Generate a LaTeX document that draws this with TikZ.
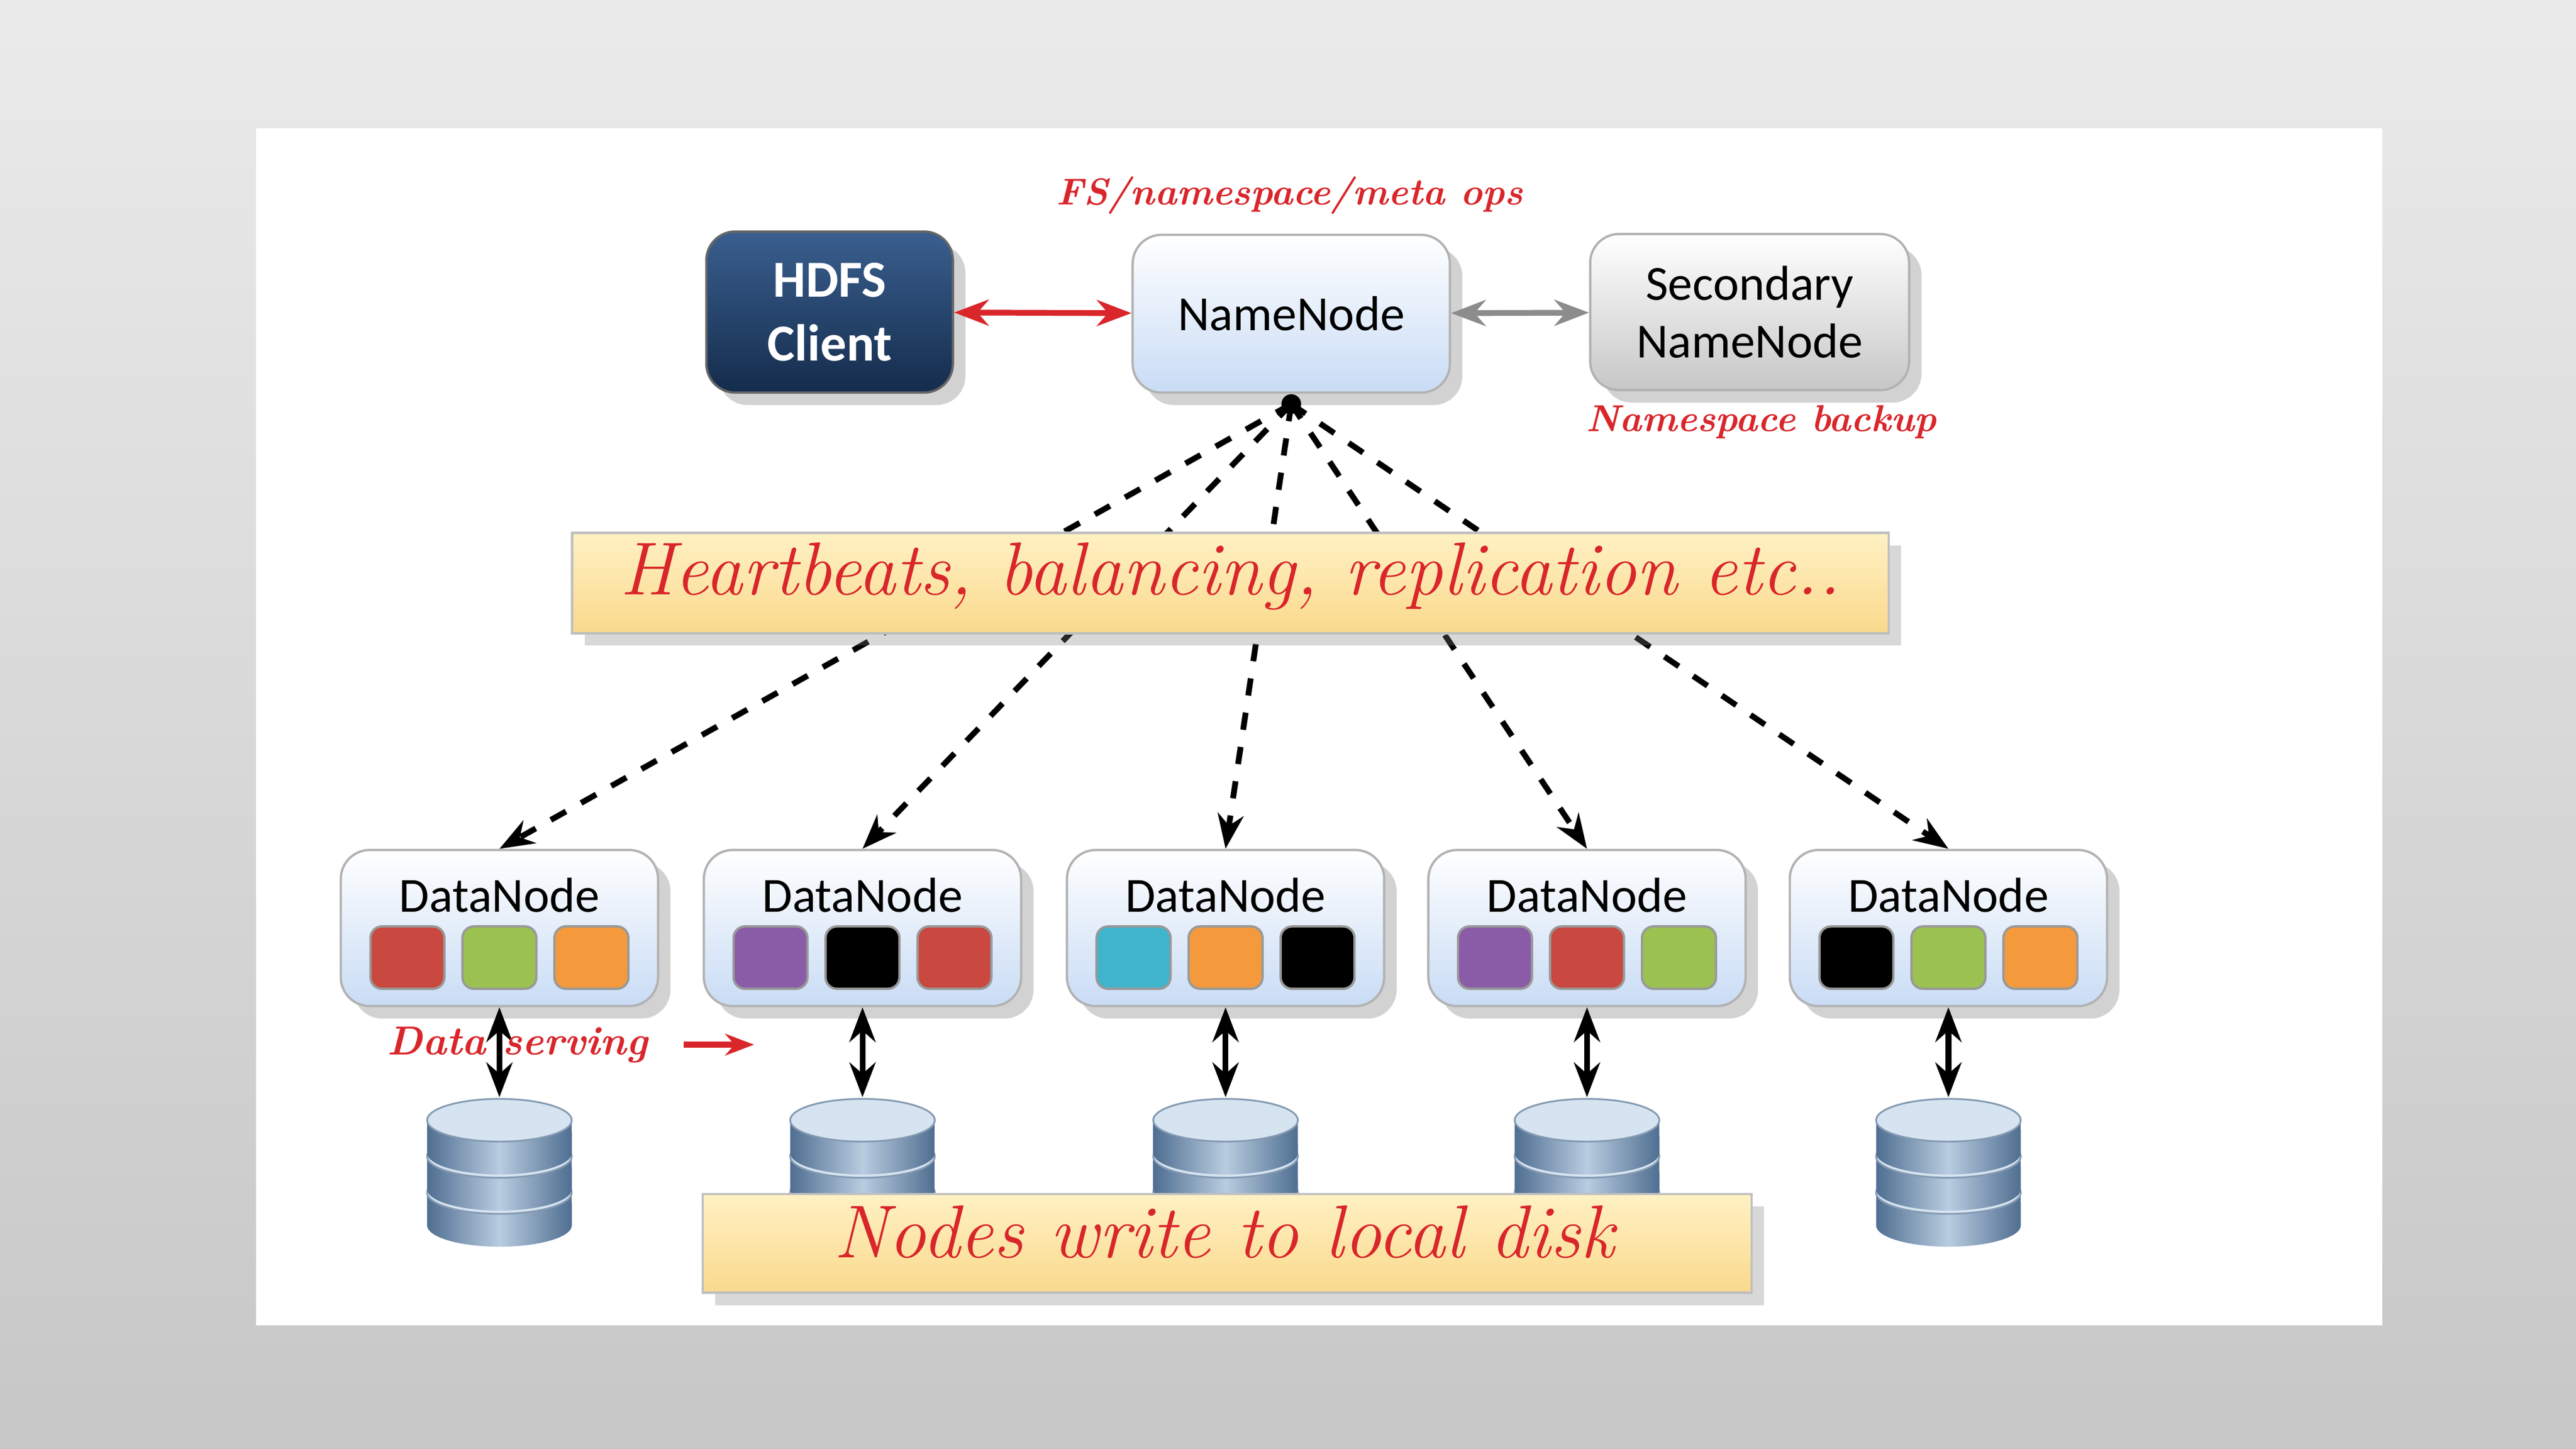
\documentclass[tikz,border=0pt]{standalone}
\usepackage{fontspec}
\setmainfont{Latin Modern Roman}
\newfontfamily\boxfont{Carlito}
\usetikzlibrary{shadows,arrows.meta}
\definecolor{lblred}{HTML}{D9262B}
\definecolor{sqred}{HTML}{C9483F}
\definecolor{sqgreen}{HTML}{9BC250}
\definecolor{sqorange}{HTML}{F59A3C}
\definecolor{sqpurple}{HTML}{8A5CA8}
\definecolor{sqcyan}{HTML}{3FB4CB}
\definecolor{nodeblue}{HTML}{C9DCF5}
\definecolor{navytop}{HTML}{3A5F8F}
\definecolor{navybot}{HTML}{142C4C}
\definecolor{diskdark}{HTML}{4F6E91}
\definecolor{disklight}{HTML}{B9CCE0}
\definecolor{disktop}{HTML}{D6E3F0}
\definecolor{bantop}{HTML}{FFF1C4}
\definecolor{banbot}{HTML}{FAD98C}
\tikzset{
  lbl/.style={text=lblred,font=\itshape\bfseries\fontsize{6.5}{8}\selectfont},
  big/.style={text=lblred,font=\itshape\fontsize{13}{15}\selectfont},
  nn/.style={draw=black!30,rounded corners=5pt,top color=white,bottom color=nodeblue,drop shadow={opacity=0.35},font=\boxfont\fontsize{8.5}{10}\selectfont,minimum width=1.93cm,minimum height=0.96cm,align=center},
  dn/.style={draw=black!30,rounded corners=5pt,top color=white,bottom color=nodeblue,drop shadow={opacity=0.35},minimum width=1.93cm,minimum height=0.95cm},
  sq/.style={rounded corners=2pt,draw=black!40,minimum width=0.45cm,minimum height=0.38cm,inner sep=0pt},
  banner/.style={draw=black!25,top color=bantop,bottom color=banbot,drop shadow={opacity=0.3}},
  dashlink/.style={dashed,line width=1pt,-{Stealth[length=6pt]}},
  dbl/.style={line width=1pt,{Stealth[length=6pt]}-{Stealth[length=6pt]}}
}
\begin{document}
\begin{tikzpicture}[x=0.01cm,y=-0.01cm]
\useasboundingbox (0,0) rectangle (1568,882);
\shade[top color=black!8,bottom color=black!22] (0,0) rectangle (1568,882);
\fill[white] (156,78) rectangle (1450,807);
% top row
\node[nn,draw=black!60,top color=navytop,bottom color=navybot,text=white,font=\boxfont\bfseries\fontsize{9}{11}\selectfont,minimum width=1.50cm,minimum height=0.98cm] (client) at (505,190) {HDFS\\Client};
\node[nn] (nn) at (786,191) {NameNode};
\node[nn,top color=white,bottom color=black!22,minimum width=1.94cm,minimum height=0.95cm] (snn) at (1065,190) {Secondary\\NameNode};
\draw[dbl,lblred] (client) -- (nn);
\draw[dbl,black!45] (nn) -- (snn);
\node[lbl] (l1) at (785,119) {FS/namespace/meta ops};
\node[lbl] (l2) at (1072,257) {Namespace backup};
% datanodes
\coordinate (hub) at (786,246);
\fill (hub) circle (6);
\foreach \i/\x/\a/\b/\c in {1/304/sqred/sqgreen/sqorange,2/525/sqpurple/black/sqred,3/746/sqcyan/sqorange/black,4/966/sqpurple/sqred/sqgreen,5/1186/black/sqgreen/sqorange}{
  \node[dn] (dn\i) at (\x,565) {};
  \node[font=\boxfont\fontsize{8.5}{10}\selectfont] (dt\i) at (\x,545) {DataNode};
  \node[sq,fill=\a] (s\i a) at (\x-56,583) {};
  \node[sq,fill=\b] (s\i b) at (\x,583) {};
  \node[sq,fill=\c] (s\i c) at (\x+56,583) {};
  \draw[dashlink] (hub) -- (dn\i.north);
  \foreach \k in {2,1,0}{
    \pgfmathsetmacro\t{682+\k*22}
    \shade[left color=diskdark,right color=diskdark,middle color=disklight] (\x-44,\t) -- (\x-44,\t+20) arc[start angle=180,end angle=360,x radius=0.44cm,y radius=0.13cm] -- (\x+44,\t) -- cycle;
    \fill[disktop] (\x,\t) ellipse[x radius=0.44cm,y radius=0.13cm];
    \draw[diskdark!70,line width=0.3pt] (\x,\t) ellipse[x radius=0.44cm,y radius=0.13cm];
  }
  \coordinate (dk\i) at (\x,668);
  \draw[dbl] (dn\i.south) -- (dk\i);
}
\node[banner,minimum width=8.01cm,minimum height=0.61cm] (hb) at (749,355) {};
\node[big] (hbt) at (749,351) {Heartbeats, balancing, replication etc..};
\node[banner,minimum width=6.38cm,minimum height=0.60cm] (lw) at (747,757) {};
\node[big] (lwt) at (745,750) {Nodes write to local disk};
\node[lbl,font=\itshape\bfseries\fontsize{7}{8}\selectfont] (ds) at (315,636) {Data serving};
\coordinate (da1) at (416,636);
\coordinate (da2) at (459,636);
\draw[lblred,line width=1pt,-{Stealth[length=5pt]}] (da1) -- (da2);
\end{tikzpicture}
\end{document}
